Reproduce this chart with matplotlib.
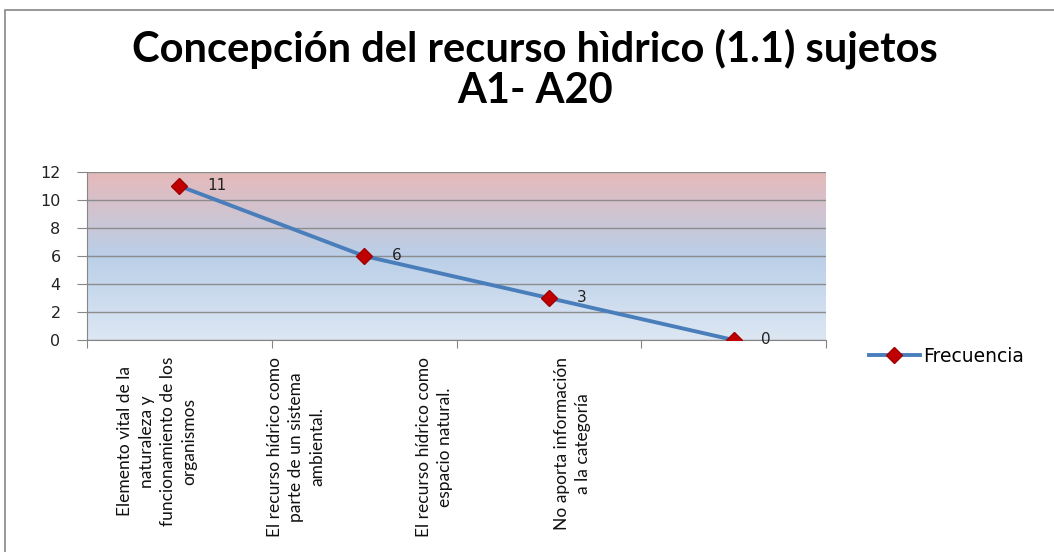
import matplotlib
matplotlib.use("Agg")
import matplotlib.pyplot as plt
import numpy as np
from matplotlib.colors import LinearSegmentedColormap
from matplotlib.patches import Rectangle

# data
categorias = [
    "Elemento vital de la\nnaturaleza y\nfuncionamiento de los\norganismos",
    "El recurso hídrico como\nparte de un sistema\nambiental.",
    "El recurso hídrico como\nespacio natural.",
    "No aporta información\na la categoría",
]
frecuencia = [11, 6, 3, 0]
titulo = "Concepción del recurso hìdrico (1.1) sujetos\nA1- A20"
serie = "Frecuencia"
y_ticks = [0, 2, 4, 6, 8, 10, 12]

narrow = ["Lato", "DejaVu Sans"]

fig = plt.figure(figsize=(10.54, 5.52), dpi=100)
fig.patch.set_facecolor("white")

# outer chart frame
fig.patches.append(
    Rectangle((5 / 1054, -0.1), 1.2, 1.1 - 10 / 552,
              transform=fig.transFigure, fill=False,
              edgecolor="#868686", linewidth=1.2)
)

ax = fig.add_axes([87 / 1054, 1 - 340 / 552, (826 - 87) / 1054, (340 - 172) / 552])

x = np.arange(len(categorias))
ax.set_xlim(-0.5, len(categorias) - 0.5)
ax.set_ylim(0, 12)

# gradient background
cmap = LinearSegmentedColormap.from_list(
    "fondo", [(0.0, "#dde7f3"), (0.5, "#bacfe8"), (1.0, "#e6b9b9")]
)
grad = np.linspace(0, 1, 256).reshape(-1, 1)
ax.imshow(grad, extent=[-0.5, len(categorias) - 0.5, 0, 12], origin="lower",
          aspect="auto", cmap=cmap, zorder=0)

ax.set_yticks(y_ticks)
ax.yaxis.grid(True, color="#8c8c8c", linewidth=1)
ax.set_axisbelow(False)
for gl in ax.get_ygridlines():
    gl.set_zorder(1)

ax.plot(x, frecuencia, color="#4a7ebb", linewidth=2.8, marker="D",
        markersize=8, markerfacecolor="#c00000", markeredgecolor="#a00000",
        label=serie, zorder=3)

for xi, v in zip(x, frecuencia):
    ax.annotate(str(v), (xi, v), xytext=(20, 0), textcoords="offset points",
                va="center", ha="left", fontsize=11, color="#222222")

# category boundaries as ticks, labels placed as in the original
ax.set_xticks(np.arange(-0.5, len(categorias), 1.0))
ax.set_xticklabels([])
ax.tick_params(axis="x", direction="out", length=6, color="#868686")
ax.tick_params(axis="y", direction="out", length=7, color="#868686",
               labelsize=11.5, labelcolor="#222222", pad=12)
for i, lab in enumerate(categorias):
    ax.text(-0.12 + 0.75 * i, -0.1, lab, transform=ax.get_xaxis_transform(),
            rotation=90, ha="center", va="top", multialignment="center",
            fontsize=12.5, family=narrow, linespacing=1.4, color="#111111")

for s in ["top", "right"]:
    ax.spines[s].set_visible(False)
for s in ["left", "bottom"]:
    ax.spines[s].set_color("#868686")

fig.text(535 / 1054, 1 - 69 / 552, titulo, ha="center", va="center",
         fontsize=30, fontweight="bold", family=narrow, linespacing=1.1)

leg = fig.legend(loc="center left", bbox_to_anchor=(852 / 1054, 1 - 356 / 552),
                 frameon=False, fontsize=13.5, handlelength=2.7,
                 handletextpad=0.2)

fig.savefig("out.png", dpi=100)
